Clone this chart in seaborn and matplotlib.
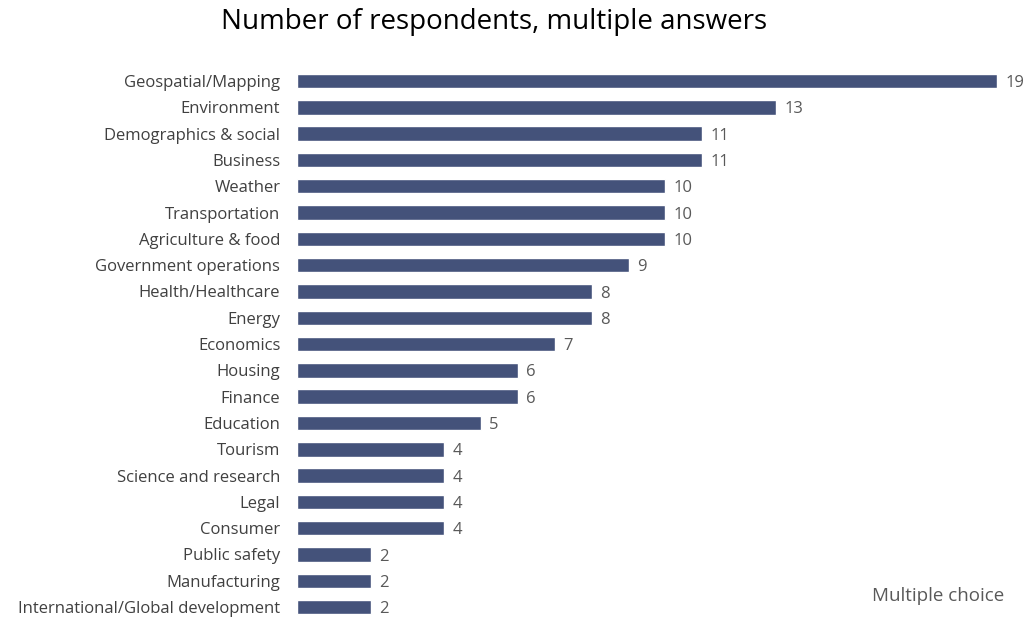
import matplotlib
matplotlib.use("Agg")
import matplotlib.pyplot as plt
import seaborn as sns
import pandas as pd

categories = [
    "Geospatial/Mapping", "Environment", "Demographics & social", "Business",
    "Weather", "Transportation", "Agriculture & food", "Government operations",
    "Health/Healthcare", "Energy", "Economics", "Housing", "Finance",
    "Education", "Tourism", "Science and research", "Legal", "Consumer",
    "Public safety", "Manufacturing", "International/Global development",
]
counts = [19, 13, 11, 11, 10, 10, 10, 9, 8, 8, 7, 6, 6, 5, 4, 4, 4, 4, 2, 2, 2]

df = pd.DataFrame({"category": categories, "count": counts})

sns.set_style("white")
plt.rcParams["font.family"] = ["Open Sans", "DejaVu Sans"]

fig = plt.figure(figsize=(10.26, 6.19), dpi=100)
ax = fig.add_axes([297 / 1026, -0.002, 700 / 1026, 0.8923])

sns.barplot(data=df, x="count", y="category", color="#44527A", saturation=1,
            width=0.55, ax=ax)

ax.set_xlim(0, 19)
ax.set_xlabel("")
ax.set_ylabel("")
ax.set_xticks([])
ax.tick_params(axis="y", length=0, pad=12, labelsize=12, labelcolor="#404040")
sns.despine(ax=ax, left=True, bottom=True)

# value labels to the right of each bar
for i, v in enumerate(counts):
    ax.text(v + 0.22, i + 0.08, str(v), va="center", ha="left", fontsize=12,
            color="#595959", clip_on=False)

fig.text(494 / 1026, 1 - 22 / 619, "Number of respondents, multiple answers",
         ha="center", va="center", fontsize=20, color="black")
fig.text(1004 / 1026, 1 - 596 / 619, "Multiple choice", ha="right",
         va="center", fontsize=13.5, color="#595959")

fig.savefig("out.png", dpi=100)
